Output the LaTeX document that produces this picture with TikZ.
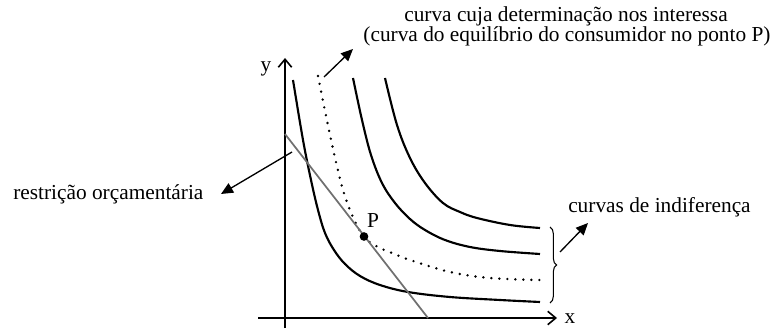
\documentclass[tikz,border=0pt]{standalone}
\usepackage{fontspec}
\setmainfont{Liberation Serif}
\usetikzlibrary{arrows.meta,decorations.pathreplacing}
\definecolor{budgetgray}{RGB}{112,112,112}
\begin{document}
\begin{tikzpicture}[x=0.75pt,y=-0.75pt,
  lbl/.style={inner sep=0pt, font=\fontsize{16}{19}\selectfont},
  axis/.style={line width=1.2pt, -{Straight Barb[length=6pt,width=10pt,line width=1.2pt]}},
  icurve/.style={line width=1.6pt},
  dcurve/.style={line width=2pt, line cap=round, dash pattern=on 0pt off 6pt},
  budget/.style={line width=1.3pt, draw=budgetgray},
  pointer/.style={line width=1pt, -{Triangle[length=9pt,width=8pt]}},
  bracestyle/.style={line width=0.8pt, decorate, decoration={brace, amplitude=5pt}},
]
\useasboundingbox (0,0) rectangle (771,331);

% axes
\coordinate (yb) at (285,328);
\coordinate (yt) at (285,58);
\coordinate (xl) at (258,318);
\coordinate (xr) at (557,318);
\draw[axis] (yb) -- (yt);
\draw[axis] (xl) -- (xr);
\node[lbl, anchor=base] (ylab) at (266,72) {y};
\node[lbl, anchor=base] (xlab) at (570,324) {x};

% indifference curves
\draw[icurve] plot[smooth, tension=0.6] coordinates {(293,80) (303,140) (311,180) (318,210) (325,233) (334,250) (345,264) (360,276) (380,285) (408,292) (450,297) (500,300) (540,302)};
\draw[icurve] plot[smooth, tension=0.6] coordinates {(353,78) (362,120) (371,155) (382,183) (395,203) (410,219) (425,230) (445,240) (470,247) (500,251) (540,254)};
\draw[icurve] plot[smooth, tension=0.6] coordinates {(385,78) (397,125) (410,158) (425,183) (443,203) (460,212) (477,218) (510,225) (540,228)};
\draw[dcurve] plot[smooth, tension=0.6] coordinates {(318,76) (324,106) (330,135) (336,162) (343,190) (352,215) (364,237) (378,247) (392,253) (410,260) (450,272) (490,278) (540,280)};

% budget line
\coordinate (b1) at (285,134);
\coordinate (b2) at (428,318);
\draw[budget] (b1) -- (b2);

% point P
\node[circle, fill=black, inner sep=0pt, minimum size=6.5pt] (P) at (364,236.5) {};
\node[lbl, anchor=base] (plab) at (373,228) {P};

% top label
\node[lbl, anchor=base] (t1) at (566,22) {curva cuja determinação nos interessa};
\node[lbl, anchor=base] (t2) at (567,42) {(curva do equilíbrio do consumidor no ponto P)};
\coordinate (a1s) at (324,77);
\coordinate (a1e) at (353,49);
\draw[pointer] (a1s) -- (a1e);

% budget label
\node[lbl, anchor=base west] (rlab) at (13,200) {restrição orçamentária};
\coordinate (a2s) at (292,152);
\coordinate (a2e) at (221,194);
\draw[pointer] (a2s) -- (a2e);

% brace and indifference label
\coordinate (bt) at (550,227);
\coordinate (bb) at (550,303);
\draw[bracestyle] (bt) -- (bb);
\node[lbl, anchor=base west] (clab) at (568,213) {curvas de indiferença};
\coordinate (a3s) at (560,252);
\coordinate (a3e) at (588,223);
\draw[pointer] (a3s) -- (a3e);
\end{tikzpicture}
\end{document}
